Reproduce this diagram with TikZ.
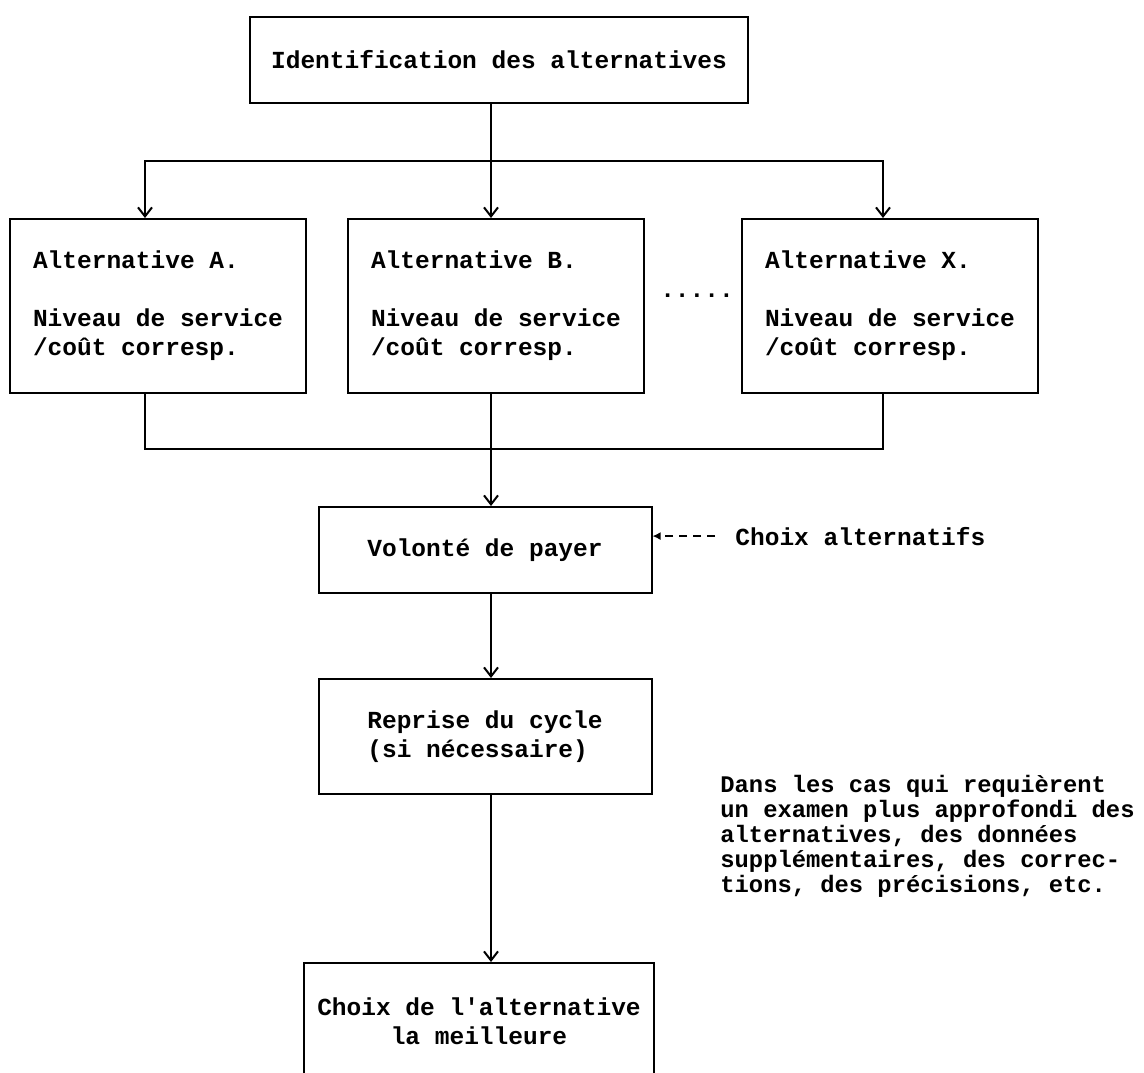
\documentclass[tikz,border=0pt]{standalone}
\usepackage{fontspec}
\setmonofont{Liberation Mono}
\usetikzlibrary{arrows.meta,calc}
\newcommand{\typefont}{\ttfamily\bfseries\fontsize{12.25}{14.5}\selectfont}
\tikzset{
  box/.style={draw, line width=1pt, inner sep=0pt, font=\typefont},
  altbox/.style={box, minimum width=148pt, minimum height=87pt, align=left},
  midbox/.style={box, minimum width=166.5pt, align=left},
  link/.style={line width=1pt},
  flow/.style={link, -{Straight Barb[length=4.5pt,width=7pt]}},
  hint/.style={link, dash pattern=on 4pt off 3pt, -{Latex[length=4pt,width=4pt]}},
  note/.style={inner sep=0pt, font=\typefont, align=left}
}
\begin{document}
\begin{tikzpicture}[x=0.5pt, y=-0.5pt]
\useasboundingbox (0,0) rectangle (1144,1072);

\node[box, minimum width=249pt, minimum height=43pt] (ident) at (499,60) {Identification des alternatives};

\node[altbox] (altA) at (158,306) {Alternative A.\\[14.5pt]Niveau de service\\/coût corresp.};
\node[altbox] (altB) at (496,306) {Alternative B.\\[14.5pt]Niveau de service\\/coût corresp.};
\node[altbox] (altX) at (890,306) {Alternative X.\\[14.5pt]Niveau de service\\/coût corresp.};
\node[note] (dots) at (697,296) {.....};

\node[midbox, minimum height=43pt] (volonte) at (485,550) {Volonté de payer};
\node[note, anchor=base west] (choixalt) at (735,545) {Choix alternatifs};

\node[midbox, minimum height=57.5pt] (reprise) at (485,736.5) {Reprise du cycle\\(si nécessaire)};
\node[note, anchor=west, font=\ttfamily\bfseries\fontsize{11.9}{12.5}\selectfont] (remarque) at (720,836)
  {Dans les cas qui requièrent\\un examen plus approfondi des\\alternatives, des données\\supplémentaires, des correc-\\tions, des précisions, etc.};

\node[box, minimum width=175pt, minimum height=58.5pt, align=center] (choix) at (479,1021.5) {Choix de l'alternative\\la meilleure};

\coordinate (split) at (491,161);
\coordinate (merge) at (491,449);

\draw[link] (ident.south -| split) -- (split);
\draw[flow] (split) -| ([xshift=-6.5pt]altA.north);
\draw[flow] (split) -| ([xshift=-3.5pt]altX.north);
\draw[flow] (split) -- (altB.north -| split);

\draw[link] ([xshift=-6.5pt]altA.south) |- (merge);
\draw[link] ([xshift=-3.5pt]altX.south) |- (merge);
\draw[link] (altB.south -| merge) -- (merge);

\draw[flow] (merge) -- (volonte.north -| merge);
\draw[flow] (volonte.south -| merge) -- (reprise.north -| merge);
\draw[flow] (reprise.south -| merge) -- (choix.north -| merge);
\draw[hint] ([xshift=-10pt]choixalt.west) -- (volonte.east |- choixalt.west);
\end{tikzpicture}
\end{document}
